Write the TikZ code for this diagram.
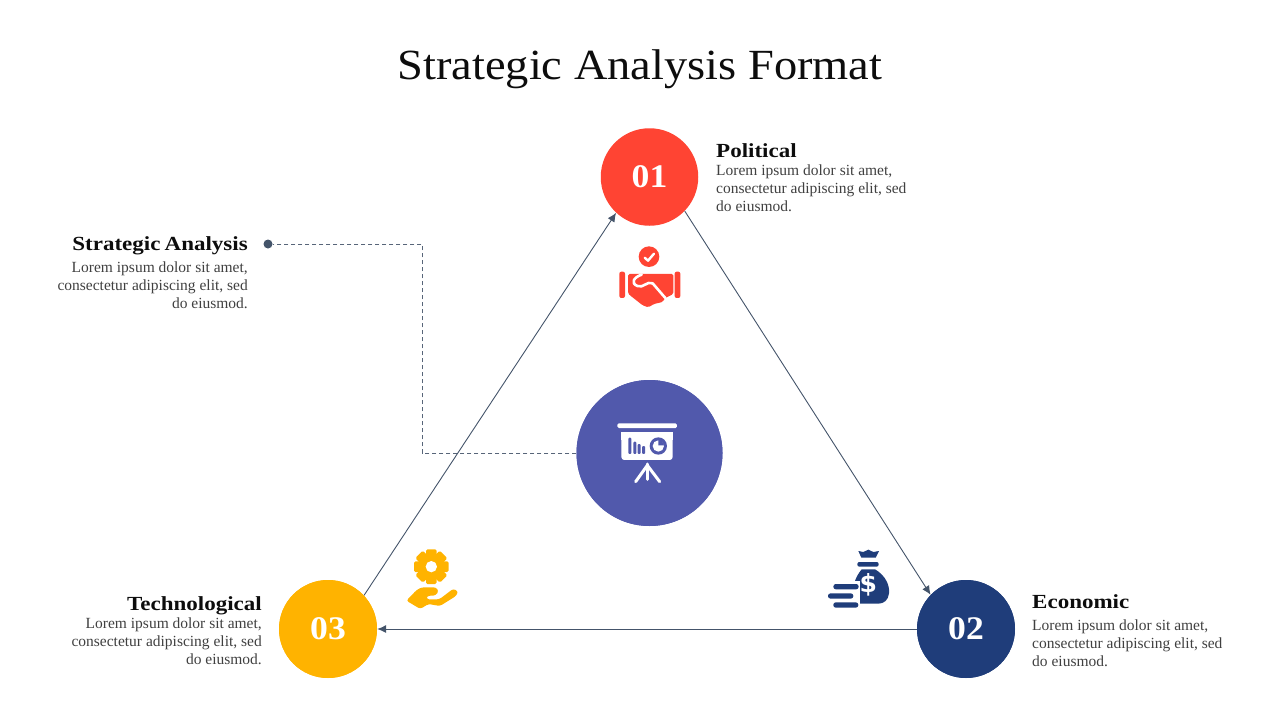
\documentclass[tikz,border=0pt]{standalone}
\usepackage{fontspec}
\setmainfont{Liberation Serif}
\newfontfamily\titlefont[FakeStretch=1.08]{Liberation Serif}
\newfontfamily\headfont[FakeStretch=1.15,BoldFont={Liberation Serif Bold},BoldFeatures={FakeStretch=1.15}]{Liberation Serif}
\newfontfamily\numfont[FakeStretch=1.08,BoldFont={Liberation Serif Bold},BoldFeatures={FakeStretch=1.08}]{Liberation Serif}
\newfontfamily\bodyfont{Liberation Serif}
\newfontfamily\signfont{DejaVu Sans}
\definecolor{cred}{HTML}{FF4433}
\definecolor{cnavy}{HTML}{1F3D7A}
\definecolor{cyel}{HTML}{FFB300}
\definecolor{cpur}{HTML}{5159AC}
\definecolor{cline}{HTML}{44546A}
\definecolor{ctext}{HTML}{404040}
\definecolor{cdark}{HTML}{0D0D0D}
\tikzset{
 numcirc/.style={circle,inner sep=0pt,text=white,font=\numfont\fontsize{33}{36}\selectfont\bfseries},
 conn/.style={draw=cline,line width=0.9pt,-{Latex[length=9pt,width=8pt]}},
 dashconn/.style={draw=cline!90!white,line width=1pt,dash pattern=on 4pt off 3pt},
 headtxt/.style={inner sep=0pt,text=cdark,font=\headfont\fontsize{20}{24}\selectfont\bfseries},
 bodytxt/.style={inner sep=0pt,text=ctext,font=\bodyfont\fontsize{15.5}{18}\selectfont},
 iconline/.style={white,line width=3pt,line cap=round,line join=round},
}
\usetikzlibrary{arrows.meta}
\begin{document}
\begin{tikzpicture}[x=1pt,y=-1pt]
\useasboundingbox (0,0) rectangle (1280,720);
\node[inner sep=0pt,text=cdark,font=\titlefont\fontsize{43}{48}\selectfont] (title) at (640,69) {Strategic Analysis Format};
% connectors' end nodes
\node[numcirc,fill=cred,minimum size=97.5pt] (c1) at (649.5,177) {\raisebox{-1pt}{01}};
\node[numcirc,fill=cnavy,minimum size=98pt] (c2) at (966,629) {};
\node[numcirc,fill=cyel,minimum size=98pt] (c3) at (328,629) {};
\node[circle,inner sep=0pt,fill=cpur,minimum size=146pt] (c0) at (649.5,453) {};
\node[circle,inner sep=0pt,fill=cline,minimum size=9pt] (dot) at (268,244) {};
\coordinate (k1) at (422,453);
\coordinate (k2) at (422,244);
% connectors
\draw[conn] (c1.-44) -- (c2.136);
\draw[conn] (c2) -- (c3);
\draw[conn] (c3.43) -- (c1.-133);
\draw[dashconn] (c0) -- (k1) -- (k2) -- (dot);
% circles above line ends
\node[numcirc,fill=cnavy,minimum size=98pt] (n2) at (966,629) {\raisebox{-1pt}{02}};
\node[numcirc,fill=cyel,minimum size=98pt] (n3) at (328,629) {\raisebox{-1pt}{03}};
\node[circle,inner sep=0pt,fill=cpur,minimum size=146pt] (n0) at (649.5,453) {};
% text
\node[headtxt,anchor=base west] (h1) at (716,157) {Political};
\node[bodytxt,anchor=north west,align=left] (b1) at (716,165) {Lorem ipsum dolor sit amet,\\consectetur adipiscing elit, sed\\do eiusmod.};
\node[headtxt,anchor=base west] (h2) at (1032,608) {Economic};
\node[bodytxt,anchor=north west,align=left] (b2) at (1032,620) {Lorem ipsum dolor sit amet,\\consectetur adipiscing elit, sed\\do eiusmod.};
\node[headtxt,anchor=base east] (h3) at (262,610) {Technological};
\node[bodytxt,anchor=north east,align=right] (b3) at (262,618) {Lorem ipsum dolor sit amet,\\consectetur adipiscing elit, sed\\do eiusmod.};
\node[headtxt,anchor=base east] (h0) at (248,250) {Strategic\hspace{-1.5pt} Analysis};
\node[bodytxt,anchor=north east,align=right] (b0) at (248,262) {Lorem ipsum dolor sit amet,\\consectetur adipiscing elit, sed\\do eiusmod.};
% handshake icon
\begin{scope}[shift={(590,230)},x=0.3333pt,y=-0.3333pt]
\fill[cred] (177,80) circle (31);
\draw[iconline,line width=2.4pt] (164,83) -- (174,92) -- (192,71);
\fill[cred,rounded corners=2pt] (88,125) rectangle (105,204);
\fill[cred,rounded corners=2pt] (254,125) rectangle (271,204);
\fill[cred,rounded corners=1.5pt] (114,132) -- (250,132) -- (250,192) -- (224,205) -- (218,216) -- (192,222) -- (175,232) -- (158,226) -- (120,196) -- (114,190) -- cycle;
\draw[iconline,line width=2.6pt] (155,134) .. controls (130,142) and (122,160) .. (142,168) .. controls (160,176) and (170,152) .. (188,160) -- (226,204);
\end{scope}
% presentation icon
\begin{scope}[shift={(590,400)},x=0.3333pt,y=-0.3333pt]
\fill[white,rounded corners=1.5pt] (82,70) rectangle (261,84);
\fill[white,rounded corners=3pt] (94,110) -- (94,180) -- (248,180) -- (248,110) -- cycle;
\fill[white] (94,96) rectangle (248,120);
\fill[cpur,rounded corners=1pt] (115,113) rectangle (124,162);
\fill[cpur,rounded corners=1pt] (130,125) rectangle (139,162);
\fill[cpur,rounded corners=1pt] (143,132) rectangle (152,162);
\fill[cpur,rounded corners=1pt] (156,138) rectangle (165,162);
\fill[cpur] (205,138) circle (26);
\fill[white] (205,138) circle (17);
\fill[cpur] (205,136) -- (205,119) arc (-90:0:17) -- cycle;
\draw[iconline] (172,192) -- (172,238);
\draw[iconline] (137,245) -- (172,196) -- (209,245);
\end{scope}
% money icon
\begin{scope}[shift={(810,540)},x=0.3333pt,y=-0.3333pt]
\fill[cnavy] (145,33) -- (160,36) -- (175,29) -- (190,36) -- (207,33) -- (197,53) -- (154,53) -- cycle;
\fill[cnavy,rounded corners=2pt] (142,66) rectangle (206,80);
\fill[cnavy] (155,88) -- (195,88) .. controls (225,105) and (240,135) .. (237,160) .. controls (235,180) and (222,191) .. (205,191) -- (150,191) .. controls (125,180) and (120,130) .. (155,88) -- cycle;
\fill[white] (54,124) rectangle (150,210);
\fill[cnavy,rounded corners=2.5pt] (70,132) rectangle (146,148);
\fill[cnavy,rounded corners=2.5pt] (54,160) rectangle (130,176);
\fill[cnavy,rounded corners=2.5pt] (70,187) rectangle (145,203);
\node[text=white,inner sep=0pt,font=\signfont\fontsize{25}{25}\selectfont\bfseries] (dollar) at (175,135) {\$};
\end{scope}
% gear hand icon
\begin{scope}[shift={(390,540)},x=0.3333pt,y=-0.3333pt]
\fill[cyel] (124,80) circle (40);
\foreach \a in {0,45,...,315}{
 \fill[cyel,rotate around={\a:(124,80)},rounded corners=1.5pt] (108,28) rectangle (140,60);
}
\fill[white] (124,80) circle (17);
\fill[cyel,rounded corners=2.5pt] (49,182) -- (80,150) -- (95,142) -- (138,142) -- (146,153) -- (138,166) -- (110,168) -- (110,178) -- (148,178) -- (190,146) -- (205,155) -- (198,168) -- (150,198) -- (115,192) -- (91,207) -- cycle;
\end{scope}
\end{tikzpicture}
\end{document}
